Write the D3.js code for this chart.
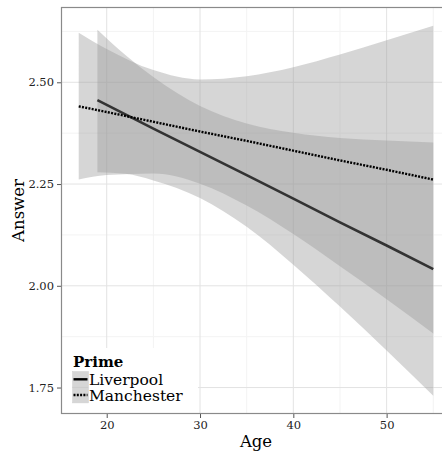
<!DOCTYPE html>
<html>
<head>
<meta charset="utf-8">
<script src="https://cdn.jsdelivr.net/npm/d3@7"></script>
<style>
html,body{margin:0;padding:0;background:#fff;}
svg{display:block;}
text{font-family:"DejaVu Serif","Liberation Serif",serif;}
</style>
</head>
<body>
<div id="chart"></div>
<script>
// ---- data ----
const seriesNames = ["Liverpool", "Manchester"];
const livAge   = [19, 22, 25, 30, 35, 40, 45, 50, 55];
const livMean  = [2.456, 2.421, 2.386, 2.329, 2.272, 2.214, 2.156, 2.099, 2.041];
const livLower = [2.279, 2.275, 2.259, 2.216, 2.145, 2.052, 1.949, 1.841, 1.730];
const livUpper = [2.629, 2.567, 2.513, 2.442, 2.399, 2.376, 2.363, 2.357, 2.352];
const manAge   = [17, 20, 25, 30, 35, 40, 45, 50, 55];
const manMean  = [2.441, 2.427, 2.403, 2.379, 2.356, 2.332, 2.308, 2.285, 2.261];
const manLower = [2.261, 2.272, 2.276, 2.251, 2.197, 2.127, 2.048, 1.967, 1.883];
const manUpper = [2.622, 2.582, 2.530, 2.507, 2.515, 2.537, 2.568, 2.603, 2.639];
const xTicks = [20, 30, 40, 50];
const xMinor = [25, 35, 45, 55];
const yTicks = [1.75, 2.00, 2.25, 2.50];
const yMinor = [1.875, 2.125, 2.375, 2.625];
const xDomain = [15.1, 56.9];
const yDomain = [1.685, 2.685];

// ---- layout ----
const W = 442, H = 454;
const P = {left: 61, top: 7, right: 451, bottom: 414};

const svg = d3.select("#chart").append("svg").attr("width", W).attr("height", H);
const x = d3.scaleLinear().domain(xDomain).range([P.left, P.right]);
const y = d3.scaleLinear().domain(yDomain).range([P.bottom, P.top]);

svg.append("defs").append("clipPath").attr("id", "clip")
  .append("rect").attr("x", P.left).attr("y", P.top)
  .attr("width", P.right - P.left).attr("height", P.bottom - P.top);

svg.append("rect").attr("x", P.left).attr("y", P.top)
  .attr("width", P.right - P.left).attr("height", P.bottom - P.top).attr("fill", "#fff");

const grid = svg.append("g");
grid.append("g").selectAll("line").data(xMinor).join("line")
  .attr("x1", d => x(d)).attr("x2", d => x(d)).attr("y1", P.top).attr("y2", P.bottom)
  .attr("stroke", "#f3f3f3").attr("stroke-width", 1);
grid.append("g").selectAll("line").data(yMinor).join("line")
  .attr("y1", d => y(d)).attr("y2", d => y(d)).attr("x1", P.left).attr("x2", P.right)
  .attr("stroke", "#f3f3f3").attr("stroke-width", 1);
grid.append("g").selectAll("line").data(xTicks).join("line")
  .attr("x1", d => x(d)).attr("x2", d => x(d)).attr("y1", P.top).attr("y2", P.bottom)
  .attr("stroke", "#e3e3e3").attr("stroke-width", 1);
grid.append("g").selectAll("line").data(yTicks).join("line")
  .attr("y1", d => y(d)).attr("y2", d => y(d)).attr("x1", P.left).attr("x2", P.right)
  .attr("stroke", "#e3e3e3").attr("stroke-width", 1);

// ribbons
const plot = svg.append("g").attr("clip-path", "url(#clip)");
const ribbons = [
  {age: manAge, lo: manLower, hi: manUpper},
  {age: livAge, lo: livLower, hi: livUpper}
];
const area = d3.area().curve(d3.curveMonotoneX)
  .x(d => x(d.a)).y0(d => y(d.lo)).y1(d => y(d.hi));
ribbons.forEach(r => {
  const pts = r.age.map((a, i) => ({a, lo: r.lo[i], hi: r.hi[i]}));
  plot.append("path").attr("d", area(pts)).attr("fill", "#999999").attr("fill-opacity", 0.4);
});

// lines
const line = d3.line().x(d => x(d.a)).y(d => y(d.m));
plot.append("path")
  .attr("d", line(livAge.map((a, i) => ({a, m: livMean[i]}))))
  .attr("fill", "none").attr("stroke", "#333333").attr("stroke-width", 2.6);
plot.append("path")
  .attr("d", line(manAge.map((a, i) => ({a, m: manMean[i]}))))
  .attr("fill", "none").attr("stroke", "#000").attr("stroke-width", 2.4)
  .attr("stroke-dasharray", "2,1.3");

// legend
const lg = svg.append("g");
lg.append("rect").attr("x", P.left).attr("y", 348).attr("width", 198 - P.left).attr("height", P.bottom - 348)
  .attr("fill", "#fff");
lg.append("text").attr("x", 73).attr("y", 367).attr("font-size", 15).attr("font-weight", "bold")
  .attr("fill", "#000").text("Prime");
const keyY = [371.5, 387.2];
seriesNames.forEach((name, i) => {
  lg.append("rect").attr("x", 72.5).attr("y", keyY[i]).attr("width", 16).attr("height", 15.7)
    .attr("fill", "#999999").attr("fill-opacity", 0.4).attr("stroke", "#cfcfcf").attr("stroke-width", 0.5);
  const ln = lg.append("line").attr("x1", 73.5).attr("x2", 87.5)
    .attr("y1", keyY[i] + 7.8).attr("y2", keyY[i] + 7.8)
    .attr("stroke", "#000").attr("stroke-width", 2.4);
  if (i === 1) ln.attr("stroke-dasharray", "2,1.3");
  lg.append("text").attr("x", 89).attr("y", keyY[i] + 13.5).attr("font-size", 15.5)
    .attr("fill", "#000").text(name);
});

// axes
const ax = svg.append("g").attr("transform", `translate(0,${P.bottom})`)
  .call(d3.axisBottom(x).tickValues(xTicks).tickSize(4).tickPadding(3).tickFormat(d3.format("d")));
const ay = svg.append("g").attr("transform", `translate(${P.left},0)`)
  .call(d3.axisLeft(y).tickValues(yTicks).tickSize(4).tickPadding(3).tickFormat(d3.format(".2f")));
[ax, ay].forEach(g => {
  g.select(".domain").remove();
  g.selectAll(".tick line").attr("stroke", "#555");
  g.selectAll(".tick text").attr("font-size", 11.5).attr("fill", "#222")
    .attr("font-family", "DejaVu Serif");
});

// panel border
svg.append("rect").attr("x", P.left + 0.5).attr("y", P.top + 0.5)
  .attr("width", P.right - P.left - 1).attr("height", P.bottom - P.top - 1)
  .attr("fill", "none").attr("stroke", "#8a8a8a").attr("stroke-width", 1.2);

// axis titles
svg.append("text").attr("x", (P.left + P.right) / 2).attr("y", 447)
  .attr("text-anchor", "middle").attr("font-size", 16.5).attr("fill", "#000").text("Age");
svg.append("text").attr("transform", `translate(24,${(P.top + P.bottom) / 2}) rotate(-90)`)
  .attr("text-anchor", "middle").attr("font-size", 16.5).attr("fill", "#000").text("Answer");
</script>
</body>
</html>
